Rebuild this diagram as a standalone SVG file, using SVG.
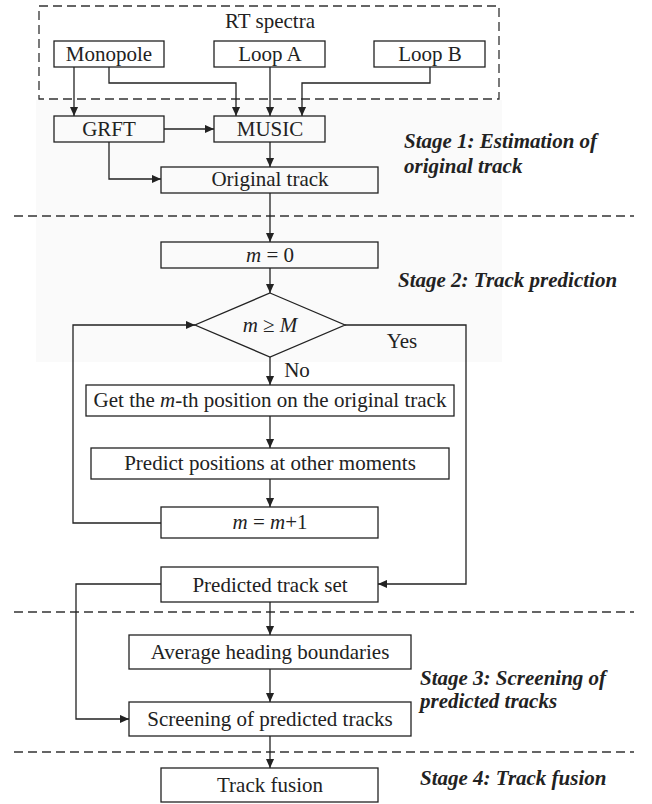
<svg xmlns="http://www.w3.org/2000/svg" width="652" height="804" viewBox="0 0 652 804">
<style>
.box{fill:none;stroke:#222;stroke-width:1.3}
.t{font-family:"Liberation Serif","Times New Roman",serif;font-size:21px;fill:#222;text-anchor:middle}
.s{font-family:"Liberation Serif","Times New Roman",serif;font-size:21px;font-weight:bold;font-style:italic;fill:#222}
.c{fill:none;stroke:#222;stroke-width:1.3;marker-end:url(#a)}
.d{fill:none;stroke:#333;stroke-width:1.3;stroke-dasharray:9 5}
</style>
<defs>
<marker id="a" viewBox="0 0 10 10" refX="10" refY="5" markerWidth="9" markerHeight="9" markerUnits="userSpaceOnUse" orient="auto">
<path d="M0,0.5 L10,5 L0,9.5 z" fill="#222"/>
</marker>
</defs>
<rect x="0" y="0" width="652" height="804" fill="#fff"/>
<rect x="36" y="100" width="466" height="262" fill="#fafafa"/>
<g id="separators">
<rect class="d" x="39" y="6" width="460" height="93"/>
<line class="d" x1="14" y1="216" x2="634" y2="216"/>
<line class="d" x1="14" y1="612" x2="634" y2="612"/>
<line class="d" x1="14" y1="752" x2="634" y2="752"/>
</g>
<g id="rt-spectra"><text class="t" x="270" y="28">RT spectra</text></g>
<g id="monopole"><rect class="box" x="54" y="41" width="110" height="26"/><text class="t" x="109" y="61">Monopole</text></g>
<g id="loopA"><rect class="box" x="214" y="41" width="111" height="26"/><text class="t" x="270" y="61">Loop A</text></g>
<g id="loopB"><rect class="box" x="374" y="41" width="111" height="26"/><text class="t" x="430" y="61">Loop B</text></g>
<g id="grft"><rect class="box" x="54" y="116" width="110" height="26"/><text class="t" x="109" y="136">GRFT</text></g>
<g id="music"><rect class="box" x="214" y="116" width="111" height="26"/><text class="t" x="270" y="136">MUSIC</text></g>
<g id="original"><rect class="box" x="161" y="167" width="217" height="26"/><text class="t" x="270" y="186">Original track</text></g>
<g id="m0"><rect class="box" x="161" y="242" width="217" height="26"/><text class="t" x="270" y="262"><tspan font-style="italic">m</tspan> = 0</text></g>
<g id="decision"><polygon class="box" points="270,293 345,325 270,357 195,325"/><text class="t" x="270" y="332"><tspan font-style="italic">m</tspan> ≥ <tspan font-style="italic">M</tspan></text></g>
<g id="getm"><rect class="box" x="86" y="385" width="368" height="31"/><text class="t" x="270" y="407">Get the <tspan font-style="italic">m</tspan>-th position on the original track</text></g>
<g id="predict"><rect class="box" x="91" y="448" width="358" height="31"/><text class="t" x="270" y="470">Predict positions at other moments</text></g>
<g id="minc"><rect class="box" x="161" y="507" width="217" height="31"/><text class="t" x="270" y="529"><tspan font-style="italic">m</tspan> = <tspan font-style="italic">m</tspan>+1</text></g>
<g id="predset"><rect class="box" x="161" y="567" width="217" height="35"/><text class="t" x="270" y="592">Predicted track set</text></g>
<g id="average"><rect class="box" x="129" y="635" width="282" height="34"/><text class="t" x="270" y="659">Average heading boundaries</text></g>
<g id="screening"><rect class="box" x="129" y="702" width="282" height="34"/><text class="t" x="270" y="726">Screening of predicted tracks</text></g>
<g id="fusion"><rect class="box" x="161" y="768" width="217" height="34"/><text class="t" x="270" y="792">Track fusion</text></g>
<g id="stages">
<text class="s" x="404" y="148">Stage 1: Estimation of</text>
<text class="s" x="404" y="173">original track</text>
<text class="s" x="398" y="287">Stage 2: Track prediction</text>
<text class="s" x="420" y="685">Stage 3: Screening of</text>
<text class="s" x="420" y="708">predicted tracks</text>
<text class="s" x="420" y="785">Stage 4: Track fusion</text>
</g>
<g id="connectors">
<path class="c" d="M74,67 V116"/>
<path class="c" d="M109,67 V83 H236 V116"/>
<path class="c" d="M270,67 V116"/>
<path class="c" d="M430,67 V83 H302 V116"/>
<path class="c" d="M164,129 H214"/>
<path class="c" d="M270,142 V167"/>
<path class="c" d="M109,142 V179 H161"/>
<path class="c" d="M270,193 V242"/>
<path class="c" d="M270,268 V293"/>
<path class="c" d="M345,325 H466 V584 H378"/>
<path class="c" d="M270,357 V385"/>
<path class="c" d="M270,416 V448"/>
<path class="c" d="M270,479 V507"/>
<path class="c" d="M161,523 H73 V325 H195"/>
<path class="c" d="M161,584 H76 V719 H129"/>
<path class="c" d="M270,602 V635"/>
<path class="c" d="M270,669 V702"/>
<path class="c" d="M270,736 V768"/>
<text class="t" x="402" y="348">Yes</text>
<text class="t" x="297" y="377">No</text>
</g>
</svg>
